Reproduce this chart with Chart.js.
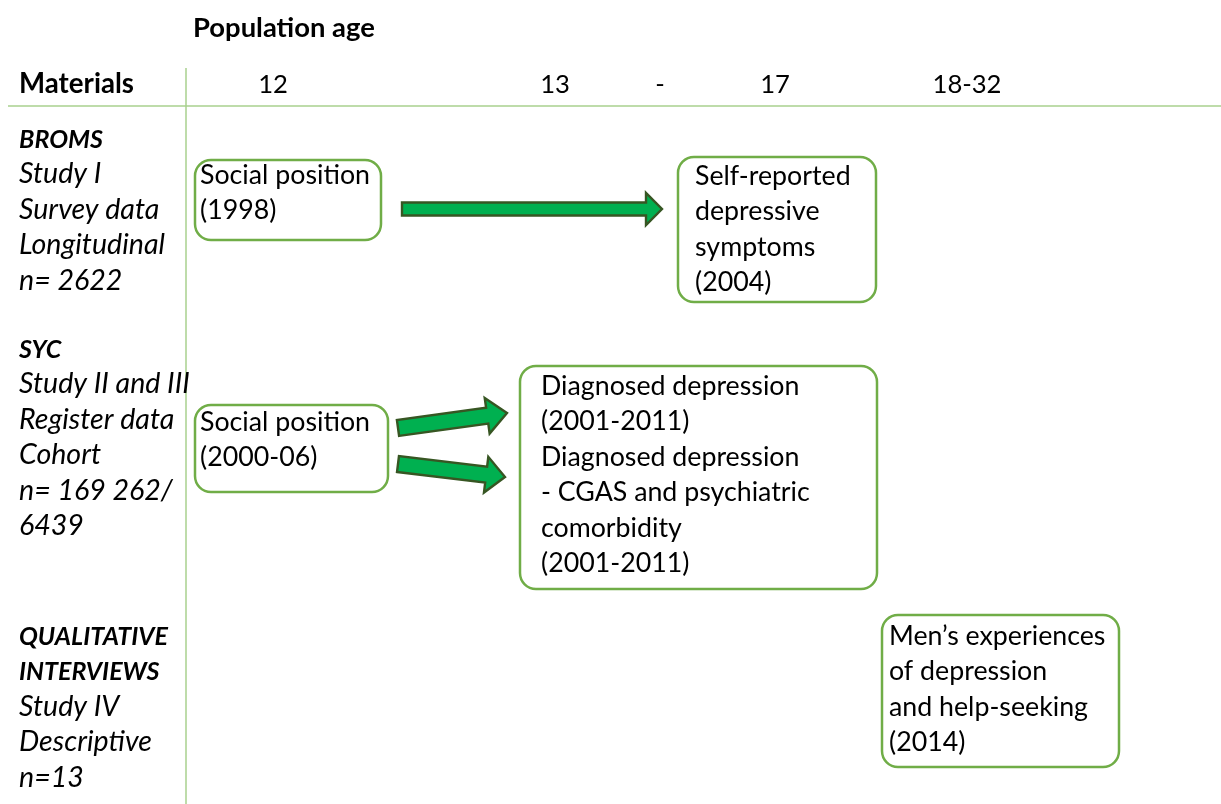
<!DOCTYPE html>
<html><head><meta charset="utf-8">
<script src="https://cdn.jsdelivr.net/npm/chart.js@4.4.1/dist/chart.umd.min.js"></script>
<style>html,body{margin:0;padding:0;background:#fff;}#wrap{width:1221px;height:804px;position:relative;}</style>
</head><body><div id="wrap"><canvas id="c"></canvas></div>
<script>
// ---------- content ----------
const headerTitle = 'Population age';
const materialsHeader = 'Materials';
const ageLabels = ['12', '13', '-', '17', '18-32'];
const studyNames = [['BROMS'], ['SYC'], ['QUALITATIVE', 'INTERVIEWS']];
const studyDetails = [
  ['Study I', 'Survey data', 'Longitudinal', 'n= 2622'],
  ['Study II and III', 'Register data', 'Cohort', 'n= 169 262/', '6439'],
  ['Study IV', 'Descriptive', 'n=13']
];
const boxTexts = [
  ['Social position', '(1998)'],
  ['Self-reported', 'depressive', 'symptoms', '(2004)'],
  ['Social position', '(2000-06)'],
  ['Diagnosed depression', '(2001-2011)', 'Diagnosed depression', '- CGAS and psychiatric', 'comorbidity', '(2001-2011)'],
  ['Men\u2019s experiences', 'of depression', 'and help-seeking', '(2014)']
];
const arrowLinks = [[0, 1], [2, 3], [2, 3]];

// ---------- layout (diagram units on the chart scales) ----------
const layout = {
  ageCenters: [273, 555, 660, 775, 967],
  headerBaseline: 93,
  titleX: 193, titleBaseline: 37,
  leftX: 19,
  studyBaselines: [148, 358, 645],
  lineH: 35.4,
  boxRects: [[195, 160, 381, 240], [678, 157, 876, 302], [195, 405, 388, 492], [520, 366, 877, 589], [882, 615, 1119, 767]],
  boxTextX: [200, 695, 200, 541, 889],
  boxFirstBaseline: [184, 185, 431, 395, 645],
  arrows: [[402, 209, 662, 209, 13, 32, 16], [398, 428, 507, 413, 16, 36, 20], [398, 464, 505, 477, 16, 36, 19]],
  vRule: [186, 68, 804],
  hRule: [8, 1221, 106]
};

const FAMILY = 'Lato, "Open Sans", sans-serif';
function fitFont(ctx, style, weight, ref, target) {
  ctx.font = `${style} ${weight} 100px ${FAMILY}`;
  const w = ctx.measureText(ref).width;
  return `${style} ${weight} ${(100 * target / w).toFixed(2)}px ${FAMILY}`;
}

const diagramPlugin = {
  id: 'diagram',
  afterDraw(chart) {
    const ctx = chart.ctx, xs = chart.scales.x, ys = chart.scales.y;
    const X = v => xs.getPixelForValue(v), Y = v => ys.getPixelForValue(v);
    const fBody = fitFont(ctx, 'normal', '400', 'Social position', 170);
    const fBold = fitFont(ctx, 'normal', '700', 'Materials', 115);
    const fTitle = fitFont(ctx, 'normal', '700', 'Population age', 182);
    const fItal = fitFont(ctx, 'italic', '400', 'Longitudinal', 146);
    const fBoldItal = fitFont(ctx, 'italic', '700', 'BROMS', 84);
    const fAge = fitFont(ctx, 'normal', '400', '18-32', 69);
    ctx.save();
    // rules
    ctx.strokeStyle = '#a9d18e'; ctx.lineWidth = 1.5;
    ctx.beginPath();
    ctx.moveTo(X(layout.vRule[0]), Y(layout.vRule[1])); ctx.lineTo(X(layout.vRule[0]), Y(layout.vRule[2]));
    ctx.moveTo(X(layout.hRule[0]), Y(layout.hRule[2])); ctx.lineTo(X(layout.hRule[1]), Y(layout.hRule[2]));
    ctx.stroke();
    ctx.fillStyle = '#000'; ctx.textBaseline = 'alphabetic';
    // title & header
    ctx.textAlign = 'left';
    ctx.font = fTitle; ctx.fillText(headerTitle, X(layout.titleX), Y(layout.titleBaseline));
    ctx.font = fBold; ctx.fillText(materialsHeader, X(layout.leftX), Y(layout.headerBaseline));
    ctx.textAlign = 'center'; ctx.font = fAge;
    ageLabels.forEach((a, i) => ctx.fillText(a, X(layout.ageCenters[i]), Y(layout.headerBaseline)));
    // study labels
    ctx.textAlign = 'left';
    studyNames.forEach((names, i) => {
      let b = layout.studyBaselines[i];
      ctx.font = fBoldItal;
      names.forEach(n => { ctx.fillText(n, X(layout.leftX), Y(b)); b += layout.lineH; });
      ctx.font = fItal;
      studyDetails[i].forEach(d => { ctx.fillText(d, X(layout.leftX), Y(b)); b += layout.lineH; });
    });
    // arrows
    arrowLinks.forEach((lnk, i) => {
      const [x0, y0, x1, y1, sw, hw, hl] = layout.arrows[i];
      const p0x = X(x0), p0y = Y(y0), p1x = X(x1), p1y = Y(y1);
      const len = Math.hypot(p1x - p0x, p1y - p0y);
      const dx = (p1x - p0x) / len, dy = (p1y - p0y) / len, nx = -dy, ny = dx;
      const bx = p1x - dx * hl, by = p1y - dy * hl;
      ctx.beginPath();
      ctx.moveTo(p0x + nx * sw / 2, p0y + ny * sw / 2);
      ctx.lineTo(bx + nx * sw / 2, by + ny * sw / 2);
      ctx.lineTo(bx + nx * hw / 2, by + ny * hw / 2);
      ctx.lineTo(p1x, p1y);
      ctx.lineTo(bx - nx * hw / 2, by - ny * hw / 2);
      ctx.lineTo(bx - nx * sw / 2, by - ny * sw / 2);
      ctx.lineTo(p0x - nx * sw / 2, p0y - ny * sw / 2);
      ctx.closePath();
      ctx.fillStyle = '#00b050'; ctx.fill();
      ctx.strokeStyle = '#375623'; ctx.lineWidth = 2.4; ctx.lineJoin = 'miter'; ctx.stroke();
    });
    // boxes
    boxTexts.forEach((lines, i) => {
      const [a, b, c, d] = layout.boxRects[i];
      ctx.beginPath();
      ctx.roundRect(X(a), Y(b), X(c) - X(a), Y(d) - Y(b), 16);
      ctx.strokeStyle = '#70ad47'; ctx.lineWidth = 2.5; ctx.stroke();
      ctx.fillStyle = '#000'; ctx.font = fBody; ctx.textAlign = 'left';
      let bl = layout.boxFirstBaseline[i];
      lines.forEach(t => { ctx.fillText(t, X(layout.boxTextX[i]), Y(bl)); bl += layout.lineH; });
    });
    ctx.restore();
  }
};

new Chart(document.getElementById('c'), {
  type: 'scatter',
  data: { datasets: [{ data: [], showLine: false }] },
  options: {
    responsive: true, maintainAspectRatio: false, animation: false,
    layout: { padding: 0 },
    plugins: { legend: { display: false }, tooltip: { enabled: false } },
    scales: {
      x: { type: 'linear', min: 0, max: 1221, display: false },
      y: { type: 'linear', min: 0, max: 804, reverse: true, display: false }
    }
  },
  plugins: [diagramPlugin]
});
</script></body></html>
